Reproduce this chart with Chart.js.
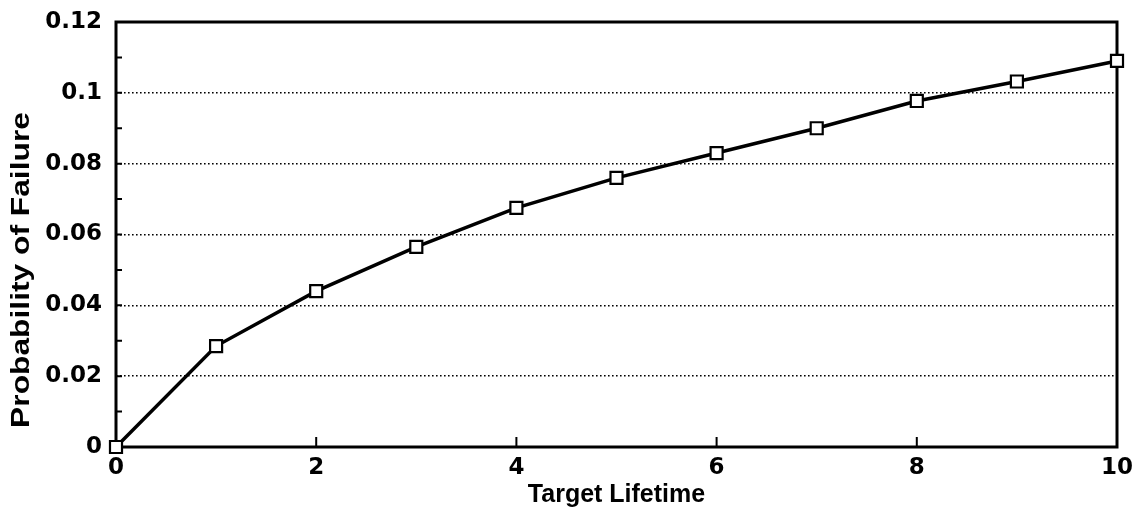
<!DOCTYPE html>
<html>
<head>
<meta charset="utf-8">
<script src="https://cdn.jsdelivr.net/npm/chart.js@4/dist/chart.umd.min.js"></script>
<style>
  html, body { margin: 0; padding: 0; background: #fff; }
  canvas { display: block; }
</style>
</head>
<body>
<canvas id="chart" width="1141" height="513"></canvas>
<script>
// valores
const lifetimes = [0, 1, 2, 3, 4, 5, 6, 7, 8, 9, 10];
const failureProb = [0, 0.0285, 0.044, 0.0565, 0.0675, 0.076, 0.083, 0.090, 0.0977, 0.1032, 0.109];
const xTitle = "Target Lifetime";
const yTitle = "Probability of Failure";

const tickFont = { family: "DejaVu Sans", size: 23, weight: "bold" };

// moldura, ticks internos e título do eixo y
const frameAndTicks = {
  id: "frameAndTicks",
  beforeDatasetsDraw(chart) {
    const { ctx, chartArea: a, scales } = chart;
    const x = scales.x;
    const y = scales.y;
    ctx.save();
    ctx.strokeStyle = "#000";
    ctx.lineWidth = 2;
    ctx.beginPath();
    for (let v = y.min; v <= y.max + 1e-9; v += 0.01) {
      const py = y.getPixelForValue(v);
      ctx.moveTo(a.left, py);
      ctx.lineTo(a.left + 6, py);
    }
    for (let v = x.min; v <= x.max; v += 2) {
      const px = x.getPixelForValue(v);
      ctx.moveTo(px, a.bottom);
      ctx.lineTo(px, a.bottom - 10);
    }
    ctx.stroke();
    ctx.lineWidth = 3;
    ctx.strokeRect(a.left, a.top, a.right - a.left, a.bottom - a.top);

    ctx.translate(22, 270);
    ctx.rotate(-Math.PI / 2);
    ctx.scale(1.27, 1);
    ctx.fillStyle = "#000";
    ctx.font = 'bold 25px "Liberation Sans"';
    ctx.textAlign = "center";
    ctx.textBaseline = "middle";
    ctx.fillText(yTitle, 0, 0);
    ctx.restore();
  },
};

const ctx = document.getElementById("chart").getContext("2d");

new Chart(ctx, {
  type: "scatter",
  data: {
    datasets: [
      {
        data: lifetimes.map((t, i) => ({ x: t, y: failureProb[i] })),
        showLine: true,
        clip: false,
        borderColor: "#000",
        borderWidth: 3.5,
        pointStyle: "rect",
        pointRadius: 8.5,
        pointBorderWidth: 2.2,
        pointBackgroundColor: "#fff",
        pointBorderColor: "#000",
      },
    ],
  },
  options: {
    responsive: false,
    animation: false,
    devicePixelRatio: 1,
    layout: { padding: { top: 22, right: 24, left: 0, bottom: 0 } },
    plugins: {
      legend: { display: false },
      tooltip: { enabled: false },
    },
    scales: {
      x: {
        type: "linear",
        min: 0,
        max: 10,
        ticks: { stepSize: 2, color: "#000", font: tickFont, padding: 7, maxRotation: 0 },
        grid: { drawOnChartArea: false, drawTicks: false },
        border: { display: false },
        title: {
          display: true,
          text: xTitle,
          color: "#000",
          font: { family: "Liberation Sans", size: 25, weight: "bold" },
          padding: { top: 0, bottom: 3 },
        },
        afterFit: (s) => { s.height = 66; },
      },
      y: {
        min: 0,
        max: 0.12,
        ticks: {
          stepSize: 0.02,
          color: "#000",
          font: tickFont,
          padding: 14,
          callback: (v) => String(Number(v.toFixed(2))),
        },
        grid: {
          color: (c) => (c.tick && c.tick.value > 0.001 && c.tick.value < 0.119 ? "#000" : "rgba(0,0,0,0)"),
          lineWidth: 1.6,
          drawTicks: false,
        },
        border: { display: false, dash: [1.6, 2.4] },
        afterFit: (s) => {
          s.width = 116;
          s.paddingTop = 0;
          s.paddingBottom = 0;
        },
      },
    },
  },
  plugins: [frameAndTicks],
});
</script>
</body>
</html>
